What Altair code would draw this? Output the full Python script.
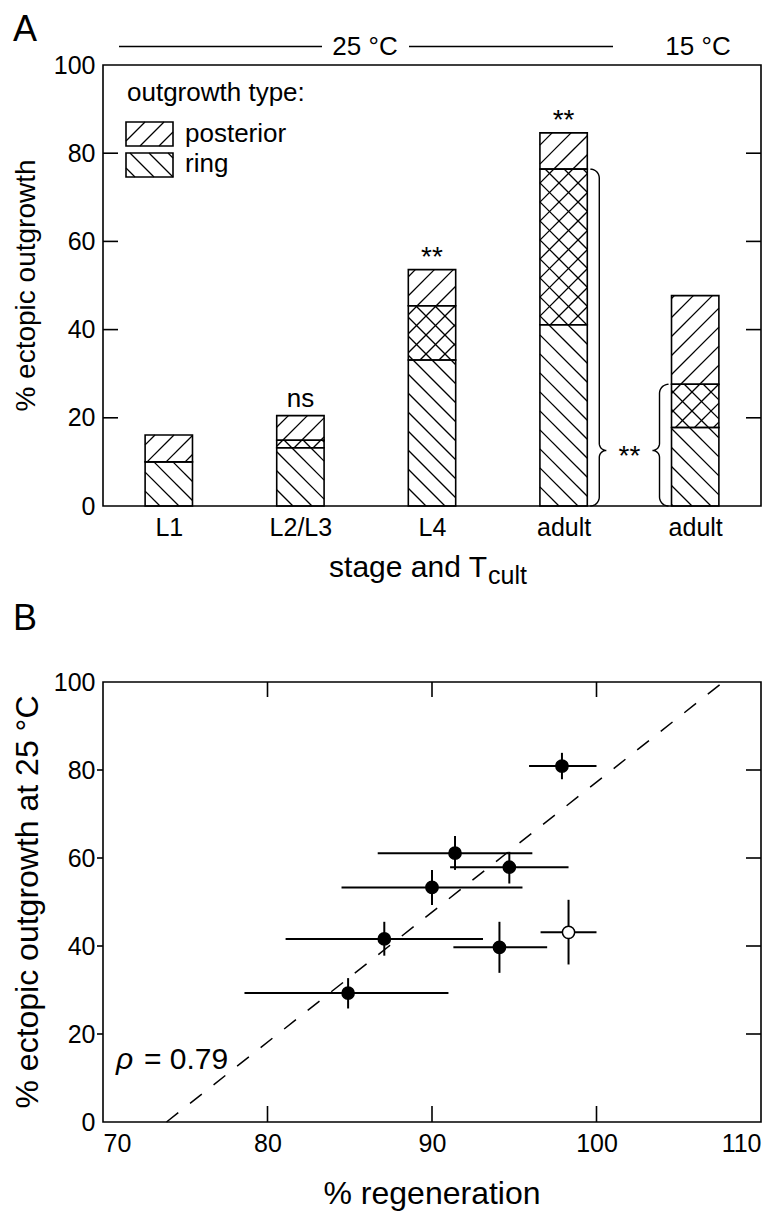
import altair as alt
import pandas as pd
import numpy as np

FONT = "Liberation Sans"

# ---------------- Panel A data ----------------
stages = ["L1", "L2/L3", "L4", "adult", "adult"]
ring_top = [10.0, 13.2, 33.1, 41.1, 17.8]      # upper edge of ring-only part
overlap_top = [10.0, 14.9, 45.4, 76.4, 27.6]   # upper edge of ring+posterior part
total = [16.1, 20.5, 53.6, 84.6, 47.7]         # total ectopic outgrowth
sig_labels = ["", "ns", "**", "**", ""]
y_ticks_a = [0, 20, 40, 60, 80, 100]
brace_tip = 12.6

# ---------------- Panel B data ----------------
regen = [91.4, 94.7, 90.0, 87.1, 94.1, 84.9, 97.9, 98.3]
regen_lo = [86.7, 91.1, 84.5, 81.1, 91.3, 78.6, 95.9, 96.6]
regen_hi = [96.1, 98.3, 95.5, 93.1, 97.0, 91.0, 100.0, 100.0]
ectopic = [61.1, 57.9, 53.3, 41.6, 39.7, 29.3, 80.9, 43.1]
ectopic_lo = [57.3, 54.2, 49.3, 37.8, 33.9, 25.8, 77.9, 35.8]
ectopic_hi = [65.0, 61.4, 57.3, 45.5, 45.5, 32.7, 83.9, 50.5]
point_fill = ["black"] * 7 + ["white"]
fit_x = [73.86, 107.7]
fit_y = [0.0, 100.0]
x_ticks_b = [70, 80, 90, 100, 110]
y_ticks_b = [0, 20, 40, 60, 80, 100]

# ---------------- geometry ----------------
WA, HA = 658, 441
WB, HB = 658, 440
PXU = WA / 5.0
PYU = HA / 100.0
HALF = 0.18
LW = 1.6
LEFT = -90

def to_data(u, v):
    return u / PXU - 0.5, v / PYU

def hatch(u0, u1, v0, v1, kind, step=19.0):
    out = []
    if kind == "/":
        cmin, cmax = v0 - u1, v1 - u0
        k = np.ceil(cmin / step)
        while k * step < cmax:
            c = k * step
            ua, ub = max(u0, v0 - c), min(u1, v1 - c)
            if ub - ua > 0.8:
                out.append((ua, ua + c, ub, ub + c))
            k += 1
    else:
        cmin, cmax = v0 + u0, v1 + u1
        k = np.ceil(cmin / step)
        while k * step < cmax:
            c = k * step
            ua, ub = max(u0, c - v1), min(u1, c - v0)
            if ub - ua > 0.8:
                out.append((ua, c - ua, ub, c - ub))
            k += 1
    rows = []
    for (a, b, cc, d) in out:
        x1, y1 = to_data(a, b)
        x2, y2 = to_data(cc, d)
        rows.append({"x": x1, "y": y1, "x2": x2, "y2": y2})
    return rows

rect_rows, hatch_rows = [], []
for i in range(len(stages)):
    xa, xb = i - HALF, i + HALF
    parts = [(0.0, ring_top[i], ["\\"]),
             (ring_top[i], overlap_top[i], ["\\", "/"]),
             (overlap_top[i], total[i], ["/"])]
    for lo, hi, kinds in parts:
        if hi - lo <= 0.05:
            continue
        rect_rows.append({"x": xa, "x2": xb, "y": lo, "y2": hi})
        for kd in kinds:
            hatch_rows += hatch((xa + 0.5) * PXU, (xb + 0.5) * PXU, lo * PYU, hi * PYU, kd)

# legend swatches (pixel layout inside plot, y measured down from top)
leg_boxes = [("posterior", 57, 81, "/"), ("ring", 88, 112, "\\")]
for name, t, b, kd in leg_boxes:
    u0, u1 = 23, 70
    v0, v1 = HA - b, HA - t
    x1, y1 = to_data(u0, v0)
    x2, y2 = to_data(u1, v1)
    rect_rows.append({"x": x1, "x2": x2, "y": y1, "y2": y2})
    hatch_rows += hatch(u0, u1, v0, v1, kd)

df_rect = pd.DataFrame(rect_rows)
df_hatch = pd.DataFrame(hatch_rows)

# braces
def brace(x_edge_u, v_top, v_bot, v_tip, s, r=9.0, r2=7.0, n=10):
    pts = []
    th = np.linspace(np.pi / 2, 0, n)
    cx, cy = 0.0, v_top - r
    pts += [(cx + r * np.cos(t), cy + r * np.sin(t)) for t in th]
    th = np.linspace(np.pi, 1.5 * np.pi, n)
    cx, cy = r + r2, v_tip + r2
    pts += [(cx + r2 * np.cos(t), cy + r2 * np.sin(t)) for t in th]
    th = np.linspace(0.5 * np.pi, np.pi, n)
    cx, cy = r + r2, v_tip - r2
    pts += [(cx + r2 * np.cos(t), cy + r2 * np.sin(t)) for t in th]
    th = np.linspace(0, -0.5 * np.pi, n)
    cx, cy = 0.0, v_bot + r
    pts += [(cx + r * np.cos(t), cy + r * np.sin(t)) for t in th]
    rows = []
    for k, (du, v) in enumerate(pts):
        x, y = to_data(x_edge_u + s * du, v)
        rows.append({"x": x, "y": y, "o": k})
    return rows

br_rows = []
for bid, (edge, s, top) in enumerate([((3 + HALF + 0.5) * PXU + 3, 1, overlap_top[3]),
                                      ((4 - HALF + 0.5) * PXU - 3, -1, overlap_top[4])]):
    for r_ in brace(edge, top * PYU, 0.0, brace_tip * PYU, s):
        r_["b"] = bid
        br_rows.append(r_)
df_brace = pd.DataFrame(br_rows)

df_bars = pd.DataFrame({"i": list(range(5)), "total": total, "sig": sig_labels})

xs_a = alt.Scale(domain=[-0.5, 4.5], nice=False, zero=False)
ys_a = alt.Scale(domain=[0, 100], nice=False, zero=False)

label_expr = "[" + ",".join("'" + s + "'" for s in stages) + "][datum.value]"

one = pd.DataFrame({"k": [0]})

hatch_layer = alt.Chart(df_hatch).mark_rule(color="black", strokeWidth=1.3).encode(
    x=alt.X("x:Q", scale=xs_a, axis=alt.Axis(values=[0, 1, 2, 3, 4], labelExpr=label_expr, title=None)),
    y=alt.Y("y:Q", scale=ys_a, axis=alt.Axis(values=y_ticks_a, title=None)),
    x2="x2:Q", y2="y2:Q")

rect_layer = alt.Chart(df_rect).mark_rect(fillOpacity=0, stroke="black", strokeWidth=LW).encode(
    x=alt.X("x:Q", scale=xs_a), x2="x2:Q",
    y=alt.Y("y:Q", scale=ys_a), y2="y2:Q")

ns_layer = alt.Chart(df_bars).transform_filter("datum.sig == 'ns'").mark_text(
    font=FONT, fontSize=26, baseline="alphabetic", dy=-9, color="black").encode(
    x=alt.X("i:Q", scale=xs_a), y=alt.Y("total:Q", scale=ys_a), text="sig:N")

star_layer = alt.Chart(df_bars).transform_filter("datum.sig == '**'").mark_text(
    font=FONT, fontSize=28, baseline="alphabetic", dy=-4, color="black").encode(
    x=alt.X("i:Q", scale=xs_a), y=alt.Y("total:Q", scale=ys_a), text="sig:N")

brace_layer = alt.Chart(df_brace).mark_line(color="black", strokeWidth=1.4).encode(
    x=alt.X("x:Q", scale=xs_a), y=alt.Y("y:Q", scale=ys_a), detail="b:N", order="o:Q")

mid_star = alt.Chart(pd.DataFrame({"x": [3.5], "y": [brace_tip], "t": ["**"]})).mark_text(
    font=FONT, fontSize=28, baseline="alphabetic", dy=15, color="black").encode(
    x=alt.X("x:Q", scale=xs_a), y=alt.Y("y:Q", scale=ys_a), text="t:N")

# inward ticks for panel A
df_ta = pd.DataFrame({"v": [20, 40, 60, 80]})
ticks_a_left = alt.Chart(df_ta).mark_rule(color="black", strokeWidth=LW).encode(
    y=alt.Y("v:Q", scale=ys_a), x=alt.value(0), x2=alt.value(15))
ticks_a_right = alt.Chart(df_ta).mark_rule(color="black", strokeWidth=LW).encode(
    y=alt.Y("v:Q", scale=ys_a), x=alt.value(WA - 15), x2=alt.value(WA))

def txt(text, x, y, size, align="left", baseline="alphabetic", angle=0, style="normal"):
    kw = dict(font=FONT, fontSize=size, align=align, baseline=baseline, color="black")
    if angle:
        kw["angle"] = angle
    if style != "normal":
        kw["fontStyle"] = style
    return alt.Chart(one).mark_text(**kw).encode(
        x=alt.value(x), y=alt.value(y), text=alt.value(text))

temp_lines = alt.Chart(one).mark_rule(color="black", strokeWidth=LW).encode(
    x=alt.value(16), x2=alt.value(219), y=alt.value(-18.5)) + \
    alt.Chart(one).mark_rule(color="black", strokeWidth=LW).encode(
    x=alt.value(306), x2=alt.value(510), y=alt.value(-18.5))

panel_a = alt.layer(
    hatch_layer, rect_layer, ticks_a_left, ticks_a_right, ns_layer, star_layer,
    brace_layer, mid_star, temp_lines,
    txt("25 °C", 262, -10, 26, align="center"),
    txt("15 °C", 595, -10, 26, align="center"),
    txt("outgrowth type:", 24, 36, 26),
    txt("posterior", 82, 77, 26),
    txt("ring", 82, 107, 26),
    txt("A", LEFT, -52, 36, baseline="top"),
    txt("% ectopic outgrowth", LEFT, HA / 2, 28, align="center", baseline="top", angle=270),
    txt("stage and T", 384, HA + 71, 30, align="right"),
    txt("cult", 385, HA + 78, 25),
).properties(width=WA, height=HA)

# ---------------- Panel B ----------------
df_b = pd.DataFrame({"regen": regen, "lo": regen_lo, "hi": regen_hi,
                     "ect": ectopic, "elo": ectopic_lo, "ehi": ectopic_hi, "fill": point_fill})
xs_b = alt.Scale(domain=[70, 110], nice=False, zero=False)
ys_b = alt.Scale(domain=[0, 100], nice=False, zero=False)

fit_layer = alt.Chart(pd.DataFrame({"x": fit_x, "y": fit_y})).mark_line(
    color="black", strokeWidth=1.5, strokeDash=[15, 15]).encode(
    x=alt.X("x:Q", scale=xs_b, axis=alt.Axis(values=x_ticks_b, title=None)),
    y=alt.Y("y:Q", scale=ys_b, axis=alt.Axis(values=y_ticks_b, title=None)))

xerr = alt.Chart(df_b).mark_rule(color="black", strokeWidth=2).encode(
    x=alt.X("lo:Q", scale=xs_b), x2="hi:Q", y=alt.Y("ect:Q", scale=ys_b))
yerr = alt.Chart(df_b).mark_rule(color="black", strokeWidth=2).encode(
    y=alt.Y("elo:Q", scale=ys_b), y2="ehi:Q", x=alt.X("regen:Q", scale=xs_b))
pts = alt.Chart(df_b).mark_point(shape="circle", size=150, filled=True, stroke="black",
                                  strokeWidth=1.5, opacity=1).encode(
    x=alt.X("regen:Q", scale=xs_b), y=alt.Y("ect:Q", scale=ys_b),
    fill=alt.Fill("fill:N", scale=None))

df_tb = pd.DataFrame({"v": [80, 90, 100]})
df_tby = pd.DataFrame({"v": [20, 40, 60, 80]})
tk = dict(color="black", strokeWidth=LW)
ticks_b = alt.layer(
    alt.Chart(df_tb).mark_rule(**tk).encode(x=alt.X("v:Q", scale=xs_b), y=alt.value(HB - 16), y2=alt.value(HB)),
    alt.Chart(df_tb).mark_rule(**tk).encode(x=alt.X("v:Q", scale=xs_b), y=alt.value(0), y2=alt.value(15)),
    alt.Chart(df_tby).mark_rule(**tk).encode(y=alt.Y("v:Q", scale=ys_b), x=alt.value(WB - 15), x2=alt.value(WB)),
    alt.Chart(df_tby).mark_rule(**tk).encode(y=alt.Y("v:Q", scale=ys_b), x=alt.value(-6), x2=alt.value(0)),
)

panel_b = alt.layer(
    fit_layer, xerr, yerr, pts, ticks_b,
    txt("ρ", 13, HB - 53, 30, style="italic"),
    txt("= 0.79", 41, HB - 53, 30),
    txt("B", LEFT, -80, 36, baseline="top"),
    txt("% ectopic outgrowth at 25 °C", LEFT, HB / 2, 32, align="center", baseline="top", angle=270),
    txt("% regeneration", WB / 2, HB + 82, 32, align="center"),
).properties(width=WB, height=HB)

chart = alt.vconcat(panel_a, panel_b, spacing=10).properties(
    padding={"left": 3, "top": 3, "right": 0, "bottom": 0}
).configure_view(
    stroke="black", strokeWidth=LW
).configure_axis(
    domain=False, ticks=False, grid=False, labelFont=FONT, labelFontSize=25,
    labelColor="black", labelPadding=8
).configure_axisX(labelPadding=9)

chart.save("out.html", embed_options={"renderer": "svg", "actions": False})
